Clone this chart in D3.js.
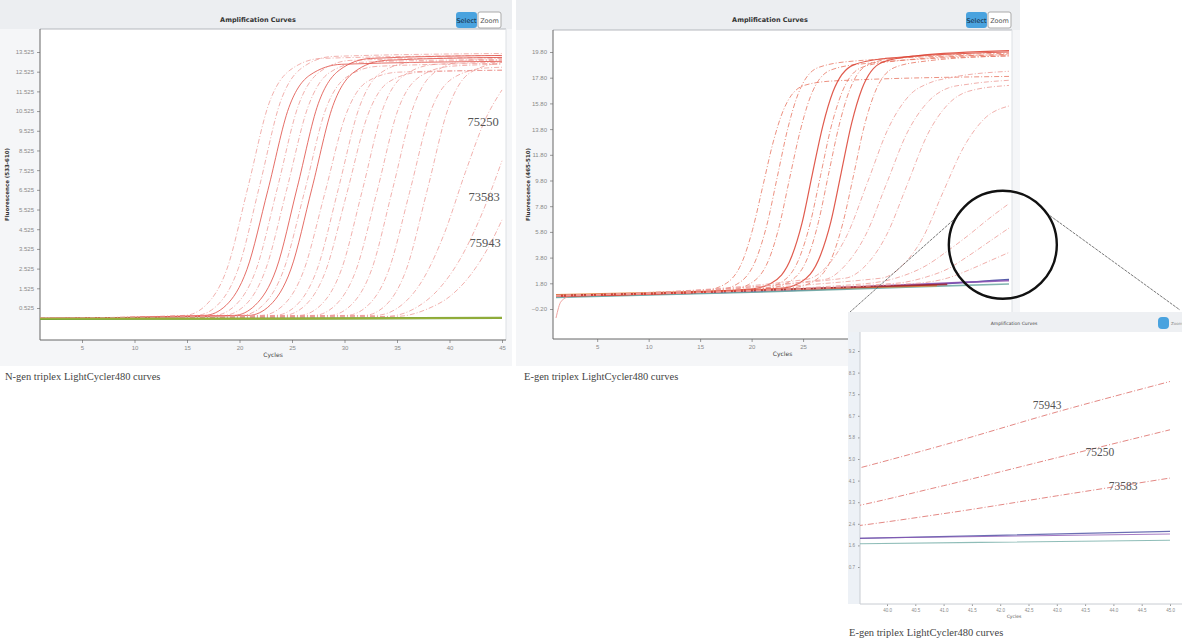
<!DOCTYPE html>
<html>
<head>
<meta charset="utf-8">
<script src="https://cdn.jsdelivr.net/npm/d3@7"></script>
<style>
  body { margin: 0; background: #fff; }
  svg { display: block; font-family: "DejaVu Sans", sans-serif; }
  .tick text { fill: #8a8a8a; font-size: 6px; }
  .tick line { stroke: #999; }
  .caption { font-family: "Liberation Serif", "DejaVu Serif", serif; font-size: 10.5px; fill: #444; }
  .note { font-family: "Liberation Serif", "DejaVu Serif", serif; fill: #555; }
</style>
</head>
<body>
<script>
// ---- data ----
const xTicks = [5, 10, 15, 20, 25, 30, 35, 40, 45];

// N-gen chart (left)
const nYTicks = [0.525, 1.525, 2.525, 3.525, 4.525, 5.525, 6.525, 7.525, 8.525, 9.525, 10.525, 11.525, 12.525, 13.525];
const nCurves = [
    [[1, 0], [14.8, 0.15], [16.8, 0.67], [18.8, 2.5], [20.8, 6.65], [22.8, 10.9], [24.8, 12.6], [27.8, 13.2], [45, 13.35]],
    [[1, 0], [15.9, 0.15], [17.9, 0.67], [19.9, 2.55], [21.9, 6.7], [23.9, 11.0], [25.9, 12.7], [28.9, 13.3], [45, 13.45]],
    [[1, 0], [16.7, 0.15], [18.7, 0.65], [20.7, 2.47], [22.7, 6.5], [24.7, 10.7], [26.7, 12.35], [29.7, 12.9], [45, 13.05]],
    [[1, 0], [17.6, 0.15], [19.6, 0.66], [21.6, 2.5], [23.6, 6.6], [25.6, 10.8], [27.6, 12.5], [30.6, 13.1], [45, 13.25]],
    [[1, 0], [18.5, 0.15], [20.5, 0.65], [22.5, 2.5], [24.5, 6.55], [26.5, 10.7], [28.5, 12.45], [31.5, 13.0], [45, 13.15]],
    [[1, 0], [19.5, 0.15], [21.5, 0.67], [23.5, 2.5], [25.5, 6.65], [27.5, 10.9], [29.5, 12.6], [32.5, 13.2], [45, 13.35]],
    [[1, 0], [20.2, 0.15], [22.2, 0.65], [24.2, 2.45], [26.2, 6.45], [28.2, 10.6], [30.2, 12.25], [33.2, 12.8], [45, 12.95]],
    [[1, 0], [20.9, 0.15], [22.9, 0.66], [24.9, 2.5], [26.9, 6.6], [28.9, 10.8], [30.9, 12.5], [33.9, 13.1], [45, 13.25]],
    [[1, 0], [22.1, 0.15], [24.1, 0.63], [26.1, 2.4], [28.1, 6.3], [30.1, 10.3], [32.1, 12.0], [35.1, 12.5], [45, 12.6]],
    [[1, 0], [23.4, 0.15], [25.4, 0.65], [27.4, 2.5], [29.4, 6.55], [31.4, 10.7], [33.4, 12.45], [36.4, 13.0], [45, 13.1]],
    [[1, 0], [24.2, 0.15], [26.2, 0.63], [28.2, 2.4], [30.2, 6.3], [32.2, 10.3], [34.2, 12.0], [37.2, 12.5], [45, 12.6]],
    [[1, 0], [25.7, 0.15], [27.7, 0.65], [29.7, 2.47], [31.7, 6.5], [33.7, 10.7], [35.7, 12.35], [38.7, 12.9], [45, 13.0]],
    [[1, 0], [27.1, 0.15], [29.1, 0.65], [31.1, 2.45], [33.1, 6.45], [35.1, 10.6], [37.1, 12.25], [40.1, 12.8], [45, 12.9]],
    [[1, 0], [28.6, 0.15], [30.6, 0.66], [32.6, 2.5], [34.6, 6.6], [36.6, 10.8], [38.6, 12.5], [41.6, 13.1], [45, 13.2]],
    [[1, 0], [30.2, 0.15], [32.2, 0.64], [34.2, 2.43], [36.2, 6.4], [38.2, 10.5], [40.2, 12.15], [43.2, 12.7], [45, 12.75]],
    [[1, 0], [31.9, 0.15], [33.9, 0.65], [35.9, 2.5], [37.9, 6.55], [39.9, 10.7], [41.9, 12.45], [45, 13.0]],
    [[1, 0], [33, 0.15], [35.5, 0.7], [37.5, 2.0], [39.5, 4.3], [41.5, 7.4], [43.5, 10.2], [45, 11.6]],
    [[1, 0], [34, 0.1], [37, 0.6], [39, 1.5], [41, 3.0], [43, 5.2], [45, 8.0]],
    [[1, 0], [35, 0.1], [38, 0.5], [40, 1.1], [42, 2.2], [44, 3.9], [45, 5.0]]
];
const nSolid = [2, 5, 7];
const nBaselines = [
    [[1, -0.05], [12, -0.04], [24, -0.03], [45, 0.0]],
    [[1, 0.0], [20, 0.01], [45, 0.05]],
    [[1, -0.02], [24, -0.02], [45, 0.02]]
];
const nNotes = [['75250', 43.2, 9.97], ['73583', 43.3, 6.16], ['75943', 43.4, 3.82]];

// E-gen chart (right)
const eYTicks = [-0.2, 1.8, 3.8, 5.8, 7.8, 9.8, 11.8, 13.8, 15.8, 17.8, 19.8];
const eCurves = [
    [[1, 0.8], [15.1, 1.2], [17.1, 1.6], [19.1, 3.5], [20.1, 6.0], [21.1, 9.4], [22.1, 12.8], [23.1, 15.3], [25.1, 17.2], [28, 17.55], [45, 17.9]],
    [[1, 0.85], [16.5, 1.25], [18.5, 1.7], [20.5, 3.8], [21.5, 6.4], [22.5, 10.1], [23.5, 13.8], [24.5, 16.5], [26.5, 18.6], [30, 19.1], [45, 19.6]],
    [[1, 0.8], [17.7, 1.25], [19.7, 1.7], [21.7, 3.7], [22.7, 6.3], [23.7, 10.0], [24.7, 13.6], [25.7, 16.3], [27.7, 18.4], [31, 18.9], [45, 19.5]],
    [[1, 0.8], [19.9, 1.35], [21.9, 1.8], [23.9, 3.9], [24.9, 6.5], [25.9, 10.3], [26.9, 14.0], [27.9, 16.7], [29.9, 18.8], [33, 19.3], [45, 19.8]],
    [[1, 0.85], [20.7, 1.35], [22.7, 1.8], [24.7, 3.9], [25.7, 6.5], [26.7, 10.2], [27.7, 13.9], [28.7, 16.5], [30.7, 18.6], [34, 19.1], [45, 19.6]],
    [[1, 0.8], [21.5, 1.4], [23.5, 1.85], [25.5, 3.9], [26.5, 6.6], [27.5, 10.4], [28.5, 14.1], [29.5, 16.8], [31.5, 18.9], [35, 19.4], [45, 19.7]],
    [[1, 0.8], [22.7, 1.4], [24.7, 1.85], [26.7, 4.0], [27.7, 6.6], [28.7, 10.4], [29.7, 14.2], [30.7, 16.9], [32.7, 19.0], [36, 19.5], [45, 19.9]],
    [[1, 0.85], [23.9, 1.45], [25.9, 1.9], [27.9, 4.0], [28.9, 6.6], [29.9, 10.2], [30.9, 13.9], [31.9, 16.5], [33.9, 18.6], [37, 19.1], [45, 19.5]],
    [[1, 0.8], [25.3, 2.1], [27.3, 3.1], [29.3, 5.6], [31.3, 9.75], [33.3, 13.9], [35.3, 16.4], [37.3, 17.4], [39.3, 17.8], [45, 18.3]],
    [[1, 0.8], [27.1, 2.1], [29.1, 3.2], [31.1, 5.6], [33.1, 9.55], [35.1, 13.5], [37.1, 15.9], [39.1, 17.0], [41.1, 17.3], [45, 17.6]],
    [[1, 0.85], [29.1, 2.2], [31.1, 3.2], [33.1, 5.55], [35.1, 9.45], [37.1, 13.4], [39.1, 15.75], [41.1, 16.75], [45, 17.2]],
    [[1, 0.85], [32.6, 2.2], [34.6, 3.15], [36.6, 5.3], [38.6, 8.9], [40.6, 12.4], [42.6, 14.6], [45, 15.6]]
];
const eSolid = [3, 6];
// the three late samples, also shown in the zoomed inset
const eLate = [
    [[1, 0.85], [30, 1.7], [34, 2.2], [37, 3.2], [39, 4.3], [41, 5.5], [43, 6.8], [45, 8.0]],
    [[1, 0.85], [34, 1.8], [37, 2.3], [39, 2.9], [41, 3.9], [43, 5.0], [45, 6.1]],
    [[1, 0.85], [36, 1.8], [39, 2.2], [41, 2.8], [43, 3.5], [45, 4.2]]
];
const eBaselines = [
    [[1, 0.75], [20, 1.15], [35, 1.6], [45, 2.1]],
    [[1, 0.8], [25, 1.35], [40, 1.85], [45, 2.0]],
    [[1, 0.7], [20, 1.1], [35, 1.5], [45, 1.75]],
    [[1, 0.9], [12, 1.1], [22, 1.3], [30, 1.45], [38, 1.62]],
    [[1, 0.85], [10, 1.0], [20, 1.25], [30, 1.5], [39, 1.72]]
];
const eBaseColors = ['#3a3f9a', '#8a4fb0', '#6aa7a0', '#e8893a', '#a3222a'];
const eHook = [[1, -0.9], [1.5, 0.4], [2.5, 0.85]];

// zoomed inset
const insetXTicks = [40, 40.5, 41, 41.5, 42, 42.5, 43, 43.5, 44, 44.5, 45];
const insetYTicks = [0.7, 1.55, 2.4, 3.25, 4.1, 4.95, 5.8, 6.65, 7.5, 8.35, 9.2];
const insetNotes = [['75943', 42.83, 7.09], ['75250', 43.76, 5.23], ['73583', 44.17, 3.89]];

// ---- drawing ----
const svg = d3.select('body').append('svg')
    .attr('width', 1182)
    .attr('height', 640);

const pink = '#ec9995', red = '#e0554c';

const drawFrame = (p) => {
    const g = svg.append('g');
    g.append('rect').attr('x', p.left).attr('y', 0).attr('width', p.width).attr('height', 366).attr('fill', '#f5f6f8');
    g.append('rect').attr('x', p.left).attr('y', 0).attr('width', p.width).attr('height', p.top).attr('fill', '#eceef1');
    g.append('rect').attr('x', p.x0).attr('y', p.top).attr('width', p.x1 - p.x0).attr('height', p.bottom - p.top).attr('fill', '#fff');
    g.append('line').attr('x1', p.x0).attr('x2', p.x1).attr('y1', p.top).attr('y2', p.top).attr('stroke', '#b5b8bd');
    g.append('line').attr('x1', p.x1).attr('x2', p.x1).attr('y1', p.top).attr('y2', p.bottom).attr('stroke', '#dde0e4');

    g.append('text').attr('x', p.titleX).attr('y', 22).attr('text-anchor', 'middle')
        .attr('font-size', 6.5).attr('font-weight', 'bold').attr('fill', '#333').text('Amplification Curves');
    g.append('rect').attr('x', p.btnX).attr('y', 12).attr('width', 21).attr('height', 16).attr('rx', 3).attr('fill', '#4aa3df');
    g.append('text').attr('x', p.btnX + 10.5).attr('y', 23).attr('text-anchor', 'middle').attr('font-size', 6.5).attr('fill', '#123').text('Select');
    g.append('rect').attr('x', p.btnX + 22).attr('y', 12).attr('width', 23).attr('height', 16).attr('rx', 2).attr('fill', '#fff').attr('stroke', '#aaa');
    g.append('text').attr('x', p.btnX + 33.5).attr('y', 23).attr('text-anchor', 'middle').attr('font-size', 6.5).attr('fill', '#555').text('Zoom');

    g.append('text').attr('transform', `translate(${p.ytX}, ${(p.top + p.bottom) / 2}) rotate(-90)`)
        .attr('text-anchor', 'middle').attr('font-size', 5.5).attr('font-weight', 'bold').attr('fill', '#333').text(p.yTitle);
    g.append('text').attr('x', (p.x0 + p.x1) / 2).attr('y', p.bottom + 17).attr('text-anchor', 'middle')
        .attr('font-size', 6).attr('fill', '#444').text('Cycles');
    return g;
};

const lineFor = (x, y) => d3.line().curve(d3.curveMonotoneX).x(d => x(d[0])).y(d => y(d[1]));

// ---- left: N-gen ----
const L = {left: 0, width: 512, x0: 40, x1: 506, top: 29, bottom: 340, titleX: 258, btnX: 456, ytX: 9,
    yTitle: 'Fluorescence (533-610)'};
const lg = drawFrame(L);
const nx = d3.scaleLinear().domain([1, 45]).range([40, 502]);
const ny = d3.scaleLinear().domain([0.525, 13.525]).range([308, 52]);

lg.append('g').attr('transform', `translate(${L.x0}, 0)`)
    .call(d3.axisLeft(ny).tickValues(nYTicks).tickSize(3).tickFormat(d3.format('.3f')))
    .call(g => g.select('.domain').remove());
lg.append('g').attr('transform', `translate(0, ${L.bottom})`)
    .call(d3.axisBottom(nx).tickValues(xTicks).tickSize(3))
    .call(g => g.select('.domain').remove());
lg.append('line').attr('x1', L.x0).attr('x2', L.x0).attr('y1', L.top).attr('y2', L.bottom).attr('stroke', '#666');
lg.append('line').attr('x1', L.x0).attr('x2', L.x1).attr('y1', L.bottom).attr('y2', L.bottom).attr('stroke', '#666');

const nLine = lineFor(nx, ny);
lg.append('g').selectAll('path')
    .data(nCurves)
    .enter().append('path')
    .attr('d', nLine)
    .attr('fill', 'none')
    .attr('stroke', (d, i) => nSolid.includes(i) ? red : pink)
    .attr('stroke-width', (d, i) => nSolid.includes(i) ? 1.0 : 0.9)
    .attr('stroke-dasharray', (d, i) => nSolid.includes(i) ? null : '5,2,1,2')
    .attr('opacity', 0.85);
lg.append('g').selectAll('path')
    .data(nBaselines)
    .enter().append('path')
    .attr('d', nLine)
    .attr('fill', 'none')
    .attr('stroke', (d, i) => ['#5f9e3a', '#7aa83c', '#9aae3a'][i])
    .attr('stroke-width', 1.4);
lg.append('g').selectAll('text')
    .data(nNotes)
    .enter().append('text')
    .attr('class', 'note')
    .attr('x', d => nx(d[1]))
    .attr('y', d => ny(d[2]) + 4)
    .attr('text-anchor', 'middle')
    .attr('font-size', 12.5)
    .text(d => d[0]);

svg.append('text').attr('class', 'caption').attr('x', 5).attr('y', 380).text('N-gen triplex LightCycler480 curves');

// ---- right: E-gen ----
const R = {left: 516, width: 504, x0: 553, x1: 1012, top: 30, bottom: 339, titleX: 770, btnX: 966, ytX: 530,
    yTitle: 'Fluorescence (465-510)'};
const rg = drawFrame(R);
const ex = d3.scaleLinear().domain([1, 45]).range([556, 1009]);
const ey = d3.scaleLinear().domain([-0.2, 19.8]).range([309, 52]);

rg.append('g').attr('transform', `translate(${R.x0}, 0)`)
    .call(d3.axisLeft(ey).tickValues(eYTicks).tickSize(3).tickFormat(d3.format('.2f')))
    .call(g => g.select('.domain').remove());
rg.append('g').attr('transform', `translate(0, ${R.bottom})`)
    .call(d3.axisBottom(ex).tickValues(xTicks).tickSize(3))
    .call(g => g.select('.domain').remove());
rg.append('line').attr('x1', R.x0).attr('x2', R.x0).attr('y1', R.top).attr('y2', R.bottom).attr('stroke', '#666');
rg.append('line').attr('x1', R.x0).attr('x2', R.x1).attr('y1', R.bottom).attr('y2', R.bottom).attr('stroke', '#666');

const eLine = lineFor(ex, ey);
rg.append('g').selectAll('path')
    .data(eBaselines)
    .enter().append('path')
    .attr('d', eLine)
    .attr('fill', 'none')
    .attr('stroke', (d, i) => eBaseColors[i])
    .attr('stroke-width', 1.6)
    .attr('opacity', 0.85);
rg.append('path').datum(eHook).attr('d', eLine).attr('fill', 'none').attr('stroke', pink).attr('stroke-width', 0.9);
rg.append('g').selectAll('path')
    .data(eCurves.concat(eLate))
    .enter().append('path')
    .attr('d', eLine)
    .attr('fill', 'none')
    .attr('stroke', (d, i) => eSolid.includes(i) ? '#dc4436' : (i < 8 ? '#e7735f' : pink))
    .attr('stroke-width', (d, i) => eSolid.includes(i) ? 1.2 : 0.9)
    .attr('stroke-dasharray', (d, i) => eSolid.includes(i) ? null : '5,2,1,2')
    .attr('opacity', 0.88);

svg.append('text').attr('class', 'caption').attr('x', 524).attr('y', 380).text('E-gen triplex LightCycler480 curves');

// ---- zoom circle and connectors ----
const cx = ex(44.4), cy = ey(4.8), cr = 54;
const box = {x: 848, y: 312, w: 334, h: 312};
const tangent = a => [cx + cr * Math.cos(a), cy + cr * Math.sin(a)];
const pL = tangent(Math.PI + 0.53), pR = tangent(-0.62);
svg.append('line').attr('x1', pL[0]).attr('y1', pL[1]).attr('x2', box.x + 2).attr('y2', box.y)
    .attr('stroke', '#555').attr('stroke-width', 0.8).attr('stroke-dasharray', '3,1');
svg.append('line').attr('x1', pR[0]).attr('y1', pR[1]).attr('x2', box.x + box.w - 2).attr('y2', box.y - 2)
    .attr('stroke', '#555').attr('stroke-width', 0.8).attr('stroke-dasharray', '3,1');

// ---- inset ----
const ig = svg.append('g');
const I = {x0: 860, x1: 1182, top: 332, bottom: 604};
ig.append('rect').attr('x', box.x).attr('y', box.y).attr('width', box.w).attr('height', box.h).attr('fill', '#fff');
ig.append('rect').attr('x', box.x).attr('y', box.y).attr('width', box.w).attr('height', I.top - box.y).attr('fill', '#eef0f3');
ig.append('rect').attr('x', box.x).attr('y', I.top).attr('width', I.x0 - box.x).attr('height', I.bottom - I.top).attr('fill', '#edf1f6');
ig.append('text').attr('x', 1014).attr('y', 325).attr('text-anchor', 'middle').attr('font-size', 4.5).attr('fill', '#444').text('Amplification Curves');
ig.append('rect').attr('x', 1158).attr('y', 317).attr('width', 11).attr('height', 12).attr('rx', 4).attr('fill', '#4aa3df');
ig.append('text').attr('x', 1171).attr('y', 325).attr('font-size', 4).attr('fill', '#888').text('Zoom');

const ix = d3.scaleLinear().domain([40, 45]).range([887, 1170]);
const iy = d3.scaleLinear().domain([0.7, 9.2]).range([567, 351]);

ig.append('defs').append('clipPath').attr('id', 'insetClip')
    .append('rect').attr('x', I.x0).attr('y', I.top).attr('width', I.x1 - I.x0).attr('height', I.bottom - I.top);

ig.append('g').attr('transform', `translate(${I.x0}, 0)`)
    .call(d3.axisLeft(iy).tickValues(insetYTicks).tickSize(2).tickFormat(d3.format('.1f')))
    .call(g => g.select('.domain').remove())
    .call(g => g.selectAll('text').style('font-size', '4.5px'));
ig.append('g').attr('transform', `translate(0, ${I.bottom})`)
    .call(d3.axisBottom(ix).tickValues(insetXTicks).tickSize(2).tickFormat(d3.format('.1f')))
    .call(g => g.select('.domain').remove())
    .call(g => g.selectAll('text').style('font-size', '4.5px'));
ig.append('line').attr('x1', I.x0).attr('x2', I.x0).attr('y1', I.top).attr('y2', I.bottom).attr('stroke', '#c8ccd2');
ig.append('line').attr('x1', I.x0).attr('x2', I.x1).attr('y1', I.bottom).attr('y2', I.bottom).attr('stroke', '#c8ccd2');
ig.append('text').attr('x', 1014).attr('y', 618).attr('text-anchor', 'middle').attr('font-size', 4.5).attr('fill', '#555').text('Cycles');

const iLine = lineFor(ix, iy);
const plot = ig.append('g').attr('clip-path', 'url(#insetClip)');
plot.selectAll('path.base')
    .data(eBaselines)
    .enter().append('path')
    .attr('class', 'base')
    .attr('d', iLine)
    .attr('fill', 'none')
    .attr('stroke', (d, i) => eBaseColors[i])
    .attr('stroke-width', 1.1)
    .attr('opacity', 0.75);
plot.selectAll('path.late')
    .data(eLate)
    .enter().append('path')
    .attr('class', 'late')
    .attr('d', iLine)
    .attr('fill', 'none')
    .attr('stroke', '#e07a76')
    .attr('stroke-width', 0.9)
    .attr('stroke-dasharray', '6,2,1,2');
ig.selectAll('text.inote')
    .data(insetNotes)
    .enter().append('text')
    .attr('class', 'note inote')
    .attr('x', d => ix(d[1]))
    .attr('y', d => iy(d[2]) + 4)
    .attr('text-anchor', 'middle')
    .attr('font-size', 11.5)
    .text(d => d[0]);

svg.append('text').attr('class', 'caption').attr('x', 849).attr('y', 636).attr('font-size', 10).text('E-gen triplex LightCycler480 curves');

// circle drawn last so it sits on top
svg.append('circle').attr('cx', cx).attr('cy', cy).attr('r', cr)
    .attr('fill', 'none').attr('stroke', '#111').attr('stroke-width', 2.4);
</script>
</body>
</html>
